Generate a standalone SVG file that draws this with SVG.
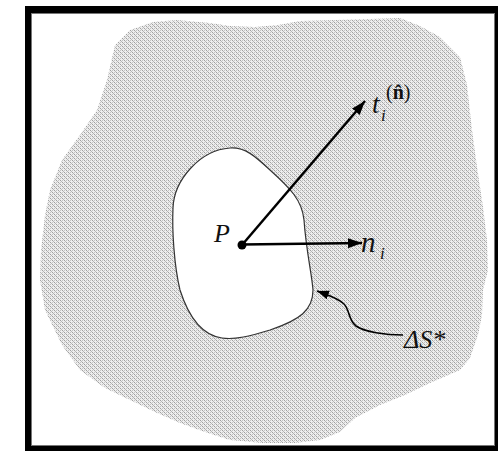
<svg xmlns="http://www.w3.org/2000/svg" width="498" height="451" viewBox="0 0 498 451">
  <style>
    .lbl { font-family: "Liberation Serif", "Times New Roman", serif; font-style: italic; fill: #111; }
    .up { font-family: "Liberation Serif", "Times New Roman", serif; font-style: normal; fill: #111; }
    .conn { stroke: #000; stroke-width: 2.5; fill: none; }
    .thin { stroke: #000; stroke-width: 1.6; fill: none; }
  </style>
  <defs>
    <pattern id="stipple" x="0" y="0" width="4" height="4" patternUnits="userSpaceOnUse">
      <rect width="4" height="4" fill="#eeeeee"/>
      <rect x="0" y="0" width="1" height="1" fill="#a0a0a0"/>
      <rect x="1" y="1" width="1" height="1" fill="#b8b8b8"/>
      <rect x="2" y="2" width="1" height="1" fill="#a0a0a0"/>
      <rect x="3" y="3" width="1" height="1" fill="#b8b8b8"/>
      <rect x="2" y="0" width="1" height="1" fill="#c4c4c4"/>
      <rect x="0" y="2" width="1" height="1" fill="#c4c4c4"/>
    </pattern>
    <marker id="arrow" markerUnits="userSpaceOnUse" markerWidth="16" markerHeight="12" refX="14" refY="5" orient="auto">
      <path d="M0,0 L14,5 L0,10 Z" fill="#000"/>
    </marker>
    <marker id="arrowSmall" markerUnits="userSpaceOnUse" markerWidth="14" markerHeight="10" refX="12" refY="4.5" orient="auto">
      <path d="M0,0 L12,4.5 L0,9 Z" fill="#000"/>
    </marker>
  </defs>

  <g id="frame">
    <rect x="25" y="6" width="473" height="445" fill="#000"/>
    <rect x="31.5" y="13.5" width="463" height="432" fill="#fff" stroke="#777" stroke-width="1"/>
  </g>

  <g id="body">
    <path fill="url(#stipple)" d="M153,22 L177,20 L210,23 L230,26 L255,27 L278,25 L300,21 L335,20 L370,19 L400,18 L420,26 L440,37 L460,57 L467,85 L472,130 L477,167 L483,207 L487,240 L488,270 L483,290 L482,315 L478,335 L470,358 L460,370 L430,383 L405,395 L380,405 L355,418 L340,432 L320,440 L295,443 L263,443 L230,440 L205,432 L180,423 L155,412 L130,400 L105,388 L80,370 L62,345 L45,310 L40,280 L41,250 L45,215 L50,190 L62,160 L80,135 L97,110 L107,80 L115,45 L130,30 Z"/>
  </g>

  <g id="surface">
    <path fill="#fff" stroke="#333" stroke-width="1.2" d="M230,148 C245,147 255,156 270,170 C290,188 302,200 304,220 C306,250 312,275 313,290 C313,310 300,320 270,330 C250,336 235,340 222,338 C200,335 188,315 180,290 C174,265 172,230 173,208 C174,180 200,150 230,148 Z"/>
  </g>

  <g id="connectors">
    <line class="conn" x1="242" y1="245" x2="365" y2="101" marker-end="url(#arrow)"/>
    <line class="conn" x1="242" y1="244.5" x2="362" y2="243" marker-end="url(#arrow)"/>
    <path class="thin" d="M403,335 C385,335 365,332 356,326 C348,320 350,310 344,304 C338,298 328,295 317,291" marker-end="url(#arrowSmall)"/>
  </g>

  <g id="point-P">
    <circle cx="242" cy="245" r="4.5" fill="#000"/>
    <text class="lbl" x="214" y="242" font-size="26">P</text>
  </g>

  <g id="label-t">
    <text class="lbl" x="372" y="113" font-size="27">t</text>
    <text class="lbl" x="381" y="121" font-size="17">i</text>
    <text class="up" x="386" y="99" font-size="20">(<tspan font-weight="bold">n̂</tspan>)</text>
  </g>

  <g id="label-n">
    <text class="lbl" x="361" y="252" font-size="29">n</text>
    <text class="lbl" x="380" y="259" font-size="17">i</text>
  </g>

  <g id="label-dS">
    <text class="lbl" x="404" y="348" font-size="26">ΔS*</text>
  </g>
</svg>
